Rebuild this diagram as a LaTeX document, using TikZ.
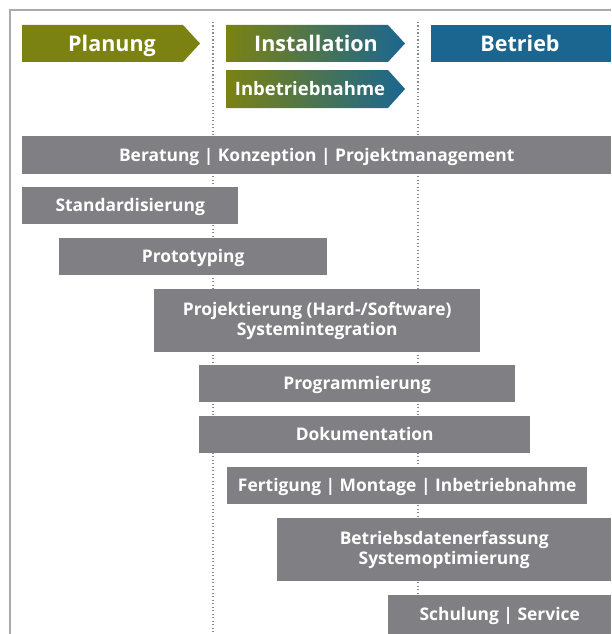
\documentclass[tikz,border=0pt]{standalone}
\usepackage{fontspec}
\setmainfont{Open Sans}
\definecolor{olivec}{HTML}{7B8212}
\definecolor{bluec}{HTML}{1B6690}
\definecolor{gboxc}{HTML}{808084}
\definecolor{framec}{HTML}{AAAAAA}
\definecolor{dotc}{HTML}{8A8A8A}
\tikzset{
  gbox/.style={fill=gboxc, draw=none, text=white, font=\bfseries\fontsize{17.4}{19.8}\selectfont, anchor=north west, inner sep=0pt, align=center},
  oneline/.style={text height=12.4pt, text depth=0pt},
  htext/.style={text=white, font=\bfseries\fontsize{21.5}{24}\selectfont, inner sep=0pt, text height=15.35pt, text depth=0pt},
  hsmall/.style={text=white, font=\bfseries\fontsize{18.5}{21}\selectfont, inner sep=0pt, text height=13.2pt, text depth=0pt},
  dotline/.style={dotc, line width=1.3pt, dash pattern=on 1.3pt off 2.2pt},
  frame/.style={framec, line width=1.5pt}
}
\begin{document}
\begin{tikzpicture}[x=1pt, y=-1pt]
\useasboundingbox (0,0) rectangle (611,634);
% frame
\coordinate (ftr) at (611,10);
\coordinate (ftl) at (10,10);
\coordinate (fbl) at (10,634);
\draw[frame] (ftr) -- (ftl) -- (fbl);
% dotted separators
\coordinate (d1t) at (213,22);
\coordinate (d1b) at (213,634);
\coordinate (d2t) at (418,22);
\coordinate (d2b) at (418,634);
\draw[dotline] (d1t) -- (d1b);
\draw[dotline] (d2t) -- (d2b);
% header arrows
\fill[olivec] (22,25) -- (183,25) -- (200,43.5) -- (183,62) -- (22,62) -- cycle;
\node[htext] (planung) at (112,43.5) {Planung};
\shade[left color=olivec, right color=bluec] (226,25) -- (388,25) -- (405,43.5) -- (388,62) -- (226,62) -- cycle;
\node[htext] (install) at (316,43.5) {Installation};
\shade[left color=olivec, right color=bluec] (226,70) -- (388,70) -- (405,89) -- (388,108) -- (226,108) -- cycle;
\node[hsmall] (inbetrieb) at (310,89) {Inbetriebnahme};
\fill[bluec] (431,25) rectangle (611,62);
\node[htext] (betrieb) at (520,43.5) {Betrieb};
% activity bars
\node[gbox, oneline, minimum width=589pt, minimum height=38pt] (berat) at (22,136) {Beratung | Konzeption | Projektmanagement};
\node[gbox, oneline, minimum width=216pt, minimum height=37pt] (standard) at (22,187) {Standardisierung};
\node[gbox, oneline, minimum width=268pt, minimum height=37pt] (proto) at (59,238) {Prototyping};
\node[gbox, minimum width=326pt, minimum height=63pt] (projekt) at (154,289) {Projektierung (Hard-/Software)\\Systemintegration};
\node[gbox, oneline, minimum width=316pt, minimum height=37pt] (program) at (199,365) {Programmierung};
\node[gbox, oneline, minimum width=331pt, minimum height=37pt] (doku) at (199,416) {Dokumentation};
\node[gbox, oneline, minimum width=360pt, minimum height=37pt] (fert) at (227,467) {Fertigung | Montage | Inbetriebnahme};
\node[gbox, minimum width=334pt, minimum height=63pt] (bde) at (277,518) {Betriebsdatenerfassung\\Systemoptimierung};
\node[gbox, oneline, minimum width=223pt, minimum height=39pt] (schulung) at (388,595) {Schulung | Service};
\end{tikzpicture}
\end{document}
